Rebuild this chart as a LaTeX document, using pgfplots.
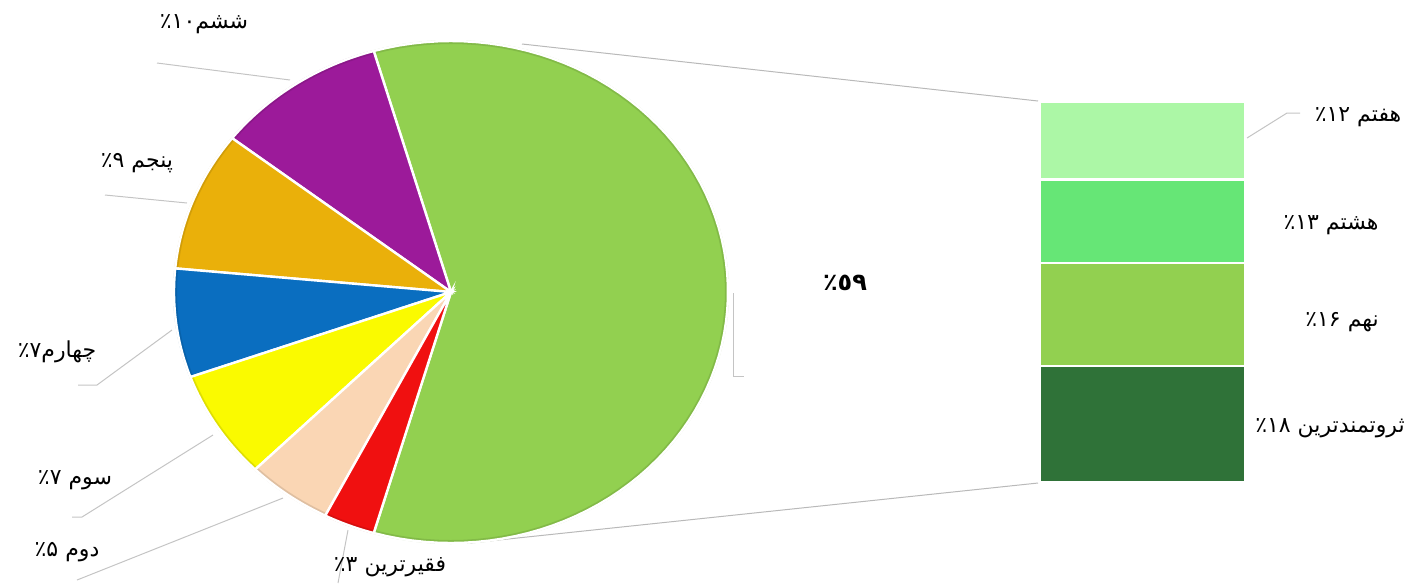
\documentclass[border=0pt]{standalone}
\usepackage{pgfplots}
\pgfplotsset{compat=1.18}
\usepackage{fontspec}
\TeXXeTstate=1
\newfontfamily\pf[Script=Arabic]{DejaVu Sans}
\definecolor{cRed}{HTML}{F01010}
\definecolor{cPeach}{HTML}{FAD6B4}
\definecolor{cYellow}{HTML}{FAFA00}
\definecolor{cBlue}{HTML}{0A6EC0}
\definecolor{cOrange}{HTML}{EAB00A}
\definecolor{cPurple}{HTML}{9C1A9A}
\definecolor{cGreen}{HTML}{92D050}
\definecolor{cLight}{HTML}{ACF7A6}
\definecolor{cMid}{HTML}{66E676}
\definecolor{cDark}{HTML}{2F7238}
\definecolor{leader}{HTML}{C4C4C4}
% data (percent)
\def\vOne{3}\def\vTwo{5}\def\vThree{7}\def\vFour{7}\def\vFive{9}\def\vSix{10}
\def\vSeven{12}\def\vEight{13}\def\vNine{16}\def\vTen{18}
\pgfmathsetmacro\vOther{\vSeven+\vEight+\vNine+\vTen}
\pgfmathsetmacro\aA{\vOther*1.8}
\pgfmathsetmacro\aB{\aA+\vSix*3.6}
\pgfmathsetmacro\aC{\aB+\vFive*3.6}
\pgfmathsetmacro\aD{\aC+\vFour*3.6}
\pgfmathsetmacro\aE{\aD+\vThree*3.6}
\pgfmathsetmacro\aF{\aE+\vTwo*3.6}
\pgfmathsetmacro\aG{\aF+\vOne*3.6}
\pgfmathsetmacro\aNeg{-\aA}
% bar segments
\pgfmathsetmacro\unit{380/\vOther}
\pgfmathsetmacro\yA{102}
\pgfmathsetmacro\yB{102+\vSeven*\unit}
\pgfmathsetmacro\yC{102+(\vSeven+\vEight)*\unit}
\pgfmathsetmacro\yD{102+(\vSeven+\vEight+\vNine)*\unit}
\pgfmathsetmacro\yE{102+\vOther*\unit}
\newcommand\slice[3]{%
  \addplot[fill=#3, draw=none, domain=#1:#2, samples=80, variable=\t] ({451+277*cos(\t)},{292-251*sin(\t)}) -- (451,292) -- cycle;
  \addplot[draw=#3!70!black, opacity=0.35, line width=2pt, domain=#1:#2, samples=80, variable=\t] ({451+276*cos(\t)},{292-250*sin(\t)});
  \addplot[fill=none, draw=white, line width=1.2pt, domain=#1:#2, samples=80, variable=\t] ({451+277*cos(\t)},{292-251*sin(\t)}) -- (451,292) -- cycle;}
\newcommand\barseg[3]{\addplot[fill=#3, draw=white, line width=1.3pt] coordinates {(1040,#1) (1245,#1) (1245,#2) (1040,#2)} -- cycle;}
\newcommand\lab{\pf\fontsize{11}{12}\selectfont}
\begin{document}
\begin{tikzpicture}
\begin{axis}[
  scale only axis, width=705.5pt, height=291.5pt,
  xmin=0, xmax=1411, ymin=0, ymax=583, y dir=reverse,
  axis lines=none, ticks=none, clip=false]
% series lines
\draw[gray!55, line width=0.5pt] (522,44) -- (1038,101);
\draw[gray!55, line width=0.5pt] (470,543) -- (1038,483);
% pie
\slice{\aNeg}{\aA}{cGreen}
\slice{\aA}{\aB}{cPurple}
\slice{\aB}{\aC}{cOrange}
\slice{\aC}{\aD}{cBlue}
\slice{\aD}{\aE}{cYellow}
\slice{\aE}{\aF}{cPeach}
\slice{\aF}{\aG}{cRed}
% bar
\barseg{\yA}{\yB}{cLight}
\barseg{\yB}{\yC}{cMid}
\barseg{\yC}{\yD}{cGreen}
\barseg{\yD}{\yE}{cDark}
% leader lines
\draw[leader, line width=0.5pt] (157,63) -- (290,80);
\draw[leader, line width=0.5pt] (105,195) -- (187,203);
\draw[leader, line width=0.5pt] (78,385) -- (97,385) -- (172,330);
\draw[leader, line width=0.5pt] (72,517) -- (82,517) -- (213,435);
\draw[leader, line width=0.5pt] (77,580) -- (283,498);
\draw[leader, line width=0.5pt] (348,530) -- (338,583);
\draw[leader, line width=0.5pt] (733,293) -- (733,376) -- (744,376);
\draw[leader, line width=0.5pt] (1247,138) -- (1287,113) -- (1300,113);
% labels
\node[font=\lab] at (204,24) {\beginR ششم۱۰٪\endR};
\node[font=\lab] at (137,163) {\beginR پنجم ٪۹\endR};
\node[font=\lab] at (57,352) {\beginR چهارم۷٪\endR};
\node[font=\lab] at (75,480) {\beginR سوم ٪۷\endR};
\node[font=\lab] at (67,552) {\beginR دوم ٪۵\endR};
\node[font=\lab] at (390,567) {\beginR فقیرترین ٪۳\endR};
\node[font=\pf\bfseries\fontsize{12}{13}\selectfont] at (845,283) {\beginR ٥٩٪\endR};
\node[font=\lab] at (1358,117) {\beginR هفتم ٪۱۲\endR};
\node[font=\lab] at (1331,225) {\beginR هشتم ٪۱۳\endR};
\node[font=\lab] at (1342,322) {\beginR نهم ٪۱۶\endR};
\node[font=\lab] at (1330,428) {\beginR ثروتمندترین ٪۱۸\endR};
\end{axis}
\pgfresetboundingbox
\useasboundingbox (current axis.south west) rectangle (current axis.north east);
\end{tikzpicture}
\end{document}
